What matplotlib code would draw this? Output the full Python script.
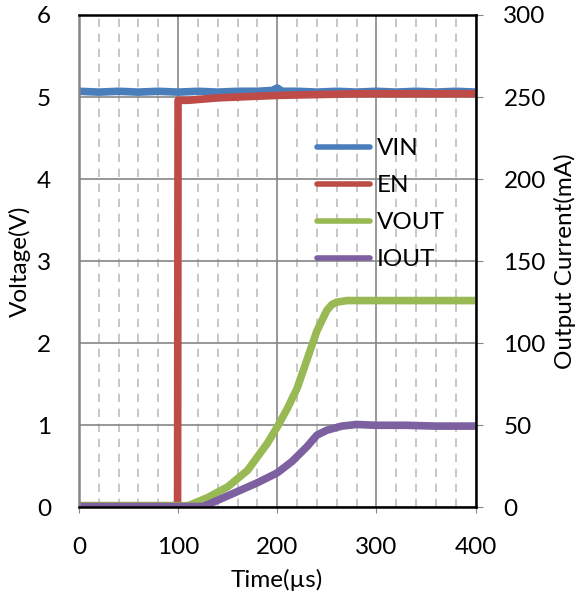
import matplotlib
matplotlib.use("Agg")
import matplotlib.pyplot as plt
from matplotlib.ticker import MultipleLocator

plt.rcParams['font.family'] = ['Lato', 'DejaVu Sans']

# data read from the scope capture
t_vin = [0, 20, 40, 60, 80, 100, 120, 140, 160, 180, 195, 200, 205, 220, 240, 260, 280, 300, 320, 340, 360, 380, 400]
vin = [5.07, 5.06, 5.07, 5.06, 5.07, 5.06, 5.07, 5.06, 5.07, 5.07, 5.08, 5.11, 5.07, 5.07, 5.06, 5.07, 5.06, 5.07, 5.06, 5.07, 5.06, 5.07, 5.06]

t_en = [0, 99.5, 100, 110, 120, 130, 140, 160, 180, 200, 240, 280, 320, 400]
en = [0.02, 0.02, 4.96, 4.96, 4.97, 4.98, 4.99, 5.0, 5.01, 5.02, 5.03, 5.04, 5.04, 5.04]

t_vout = [0, 110, 130, 150, 170, 190, 200, 210, 220, 230, 240, 250, 255, 260, 270, 300, 350, 400]
vout = [0.02, 0.02, 0.12, 0.25, 0.45, 0.78, 0.98, 1.2, 1.45, 1.8, 2.15, 2.4, 2.47, 2.5, 2.52, 2.52, 2.52, 2.52]

t_iout = [0, 125, 135, 150, 165, 180, 200, 215, 230, 240, 250, 265, 280, 300, 330, 360, 400]
iout = [0.5, 0.5, 3, 7, 11, 15, 21, 28, 37, 44, 47, 49.5, 50.5, 50, 50, 49.5, 49.5]

c_vin = '#4A7EBB'
c_en = '#BE4B48'
c_vout = '#98B954'
c_iout = '#7D60A0'

fs = 17.5

fig = plt.figure(figsize=(5.8, 5.99), dpi=100)
ax = fig.add_axes([0.136, 0.153, 0.684, 0.822])
ax2 = ax.twinx()

ax.set_xlim(0, 400)
ax.set_ylim(0, 6)
ax2.set_ylim(0, 300)

# grid
ax.xaxis.set_major_locator(MultipleLocator(100))
ax.xaxis.set_minor_locator(MultipleLocator(20))
ax.yaxis.set_major_locator(MultipleLocator(1))
ax2.yaxis.set_major_locator(MultipleLocator(50))
ax.grid(which='minor', axis='x', color='#BEBEBE', lw=1.2, ls=(0, (5, 4)))
ax.grid(which='major', axis='both', color='#868686', lw=1.2)
ax.set_axisbelow(True)

lw = 5.5
l1, = ax.plot(t_vin, vin, color=c_vin, lw=lw, label='VIN')
l2, = ax.plot(t_en, en, color=c_en, lw=lw, label='EN')
l3, = ax.plot(t_vout, vout, color=c_vout, lw=lw, label='VOUT')
l4, = ax2.plot(t_iout, iout, color=c_iout, lw=lw, label='IOUT')

ax.set_xticks([0, 100, 200, 300, 400])
ax.tick_params(axis='both', which='major', labelsize=fs, color='#868686', length=4)
ax.tick_params(axis='x', which='minor', length=0)
ax.tick_params(axis='x', pad=17)
ax.tick_params(axis='y', length=0, pad=20)
ax2.tick_params(axis='y', labelsize=fs, color='#868686', length=5, pad=15)

for s in ['top', 'right', 'bottom']:
    ax2.spines[s].set_color('black')
    ax2.spines[s].set_linewidth(1.8)
ax2.spines['left'].set_color('#868686')
ax2.spines['left'].set_linewidth(1.8)
for s in ax.spines.values():
    s.set_visible(False)

ax.set_xlabel('Time(µs)', fontsize=fs, labelpad=8)
ax.set_ylabel('Voltage(V)', fontsize=fs, labelpad=4)
ax2.set_ylabel('Output Current(mA)', fontsize=fs, labelpad=6)

leg = ax2.legend([l1, l2, l3, l4], ['VIN', 'EN', 'VOUT', 'IOUT'],
                 loc='upper left', bbox_to_anchor=(317 / 580, 1 - 138 / 599),
                 bbox_transform=fig.transFigure, frameon=False, fontsize=fs,
                 handlelength=2.2, handletextpad=0.25, labelspacing=0.66,
                 borderpad=0, borderaxespad=0)
for h in leg.get_lines():
    h.set_linewidth(4)
    h.set_solid_capstyle('round')

fig.savefig('out.png', dpi=100)
